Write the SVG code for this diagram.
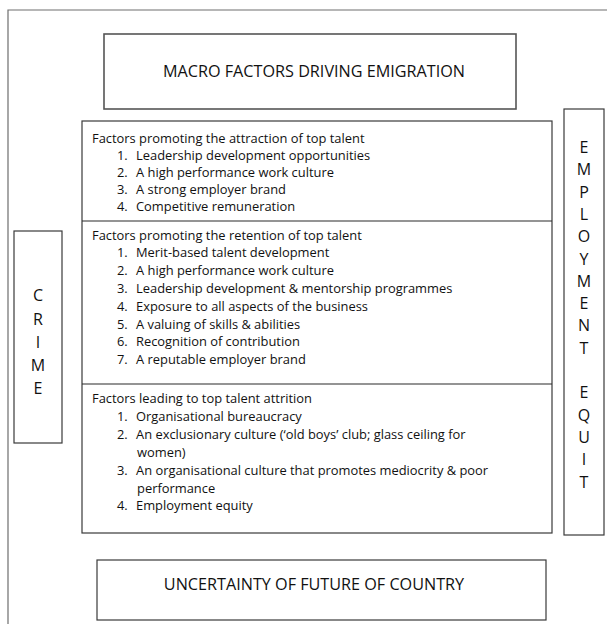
<svg xmlns="http://www.w3.org/2000/svg" width="607" height="624" viewBox="0 0 607 624">
<style>
  .frame { fill: none; stroke: #6e6e6e; stroke-width: 1.2; }
  .box { fill: #ffffff; stroke: #3a3a3a; stroke-width: 1.2; }
  .line { stroke: #2a2a2a; stroke-width: 1.2; }
  .big { font-family: "Open Sans", "Noto Sans", "Liberation Sans", sans-serif; font-size: 16.2px; fill: #111; text-anchor: middle; }
  .body { font-family: "Open Sans", "Noto Sans", "Liberation Sans", sans-serif; font-size: 12.9px; fill: #111; }
  .letter { font-family: "Open Sans", "Noto Sans", "Liberation Sans", sans-serif; font-size: 16px; fill: #111; text-anchor: middle; }
</style>
<rect width="607" height="624" fill="#ffffff"/>
<g id="frame">
  <path class="frame" d="M607 10 H8 V624"/>
</g>
<g id="connectors"></g>
<g id="macro-factors">
  <rect class="box" x="104" y="34" width="412" height="75" style="stroke:#555;stroke-width:1.6"/>
  <text class="big" x="314" y="77">MACRO FACTORS DRIVING EMIGRATION</text>
</g>
<g id="talent-factors">
  <rect class="box" x="82" y="121" width="470" height="412"/>
  <line class="line" x1="82" y1="221" x2="552" y2="221"/>
  <line class="line" x1="82" y1="384" x2="552" y2="384"/>
  <g class="body">
    <text x="92" y="142.5">Factors promoting the attraction of top talent</text>
    <text x="117" y="159.5">1.</text><text x="136" y="159.5">Leadership development opportunities</text>
    <text x="117" y="176.8">2.</text><text x="136" y="176.8">A high performance work culture</text>
    <text x="117" y="194">3.</text><text x="136" y="194">A strong employer brand</text>
    <text x="117" y="211.3">4.</text><text x="136" y="211.3">Competitive remuneration</text>

    <text x="92" y="239.5">Factors promoting the retention of top talent</text>
    <text x="117" y="257">1.</text><text x="136" y="257">Merit-based talent development</text>
    <text x="117" y="275">2.</text><text x="136" y="275">A high performance work culture</text>
    <text x="117" y="292.8">3.</text><text x="136" y="292.8">Leadership development &amp; mentorship programmes</text>
    <text x="117" y="310.8">4.</text><text x="136" y="310.8">Exposure to all aspects of the business</text>
    <text x="117" y="328.5">5.</text><text x="136" y="328.5">A valuing of skills &amp; abilities</text>
    <text x="117" y="346.3">6.</text><text x="136" y="346.3">Recognition of contribution</text>
    <text x="117" y="364.3">7.</text><text x="136" y="364.3">A reputable employer brand</text>

    <text x="92" y="402.5">Factors leading to top talent attrition</text>
    <text x="117" y="421">1.</text><text x="136" y="421">Organisational bureaucracy</text>
    <text x="117" y="439">2.</text><text x="136" y="439">An exclusionary culture (‘old boys’ club; glass ceiling for</text>
    <text x="137" y="457">women)</text>
    <text x="117" y="475">3.</text><text x="136" y="475">An organisational culture that promotes mediocrity &amp; poor</text>
    <text x="137" y="492.5">performance</text>
    <text x="117" y="510">4.</text><text x="136" y="510">Employment equity</text>
  </g>
</g>
<g id="crime">
  <rect class="box" x="14" y="231" width="48" height="212"/>
  <text class="letter" x="38" y="301">C</text>
  <text class="letter" x="38" y="324.5">R</text>
  <text class="letter" x="38" y="347.5">I</text>
  <text class="letter" x="38" y="371">M</text>
  <text class="letter" x="38" y="394">E</text>
</g>
<g id="employment-equity">
  <rect class="box" x="564" y="109" width="40" height="426"/>
  <text class="letter" x="584" y="153">E</text>
  <text class="letter" x="584" y="175.3">M</text>
  <text class="letter" x="584" y="197.6">P</text>
  <text class="letter" x="584" y="219.9">L</text>
  <text class="letter" x="584" y="242.2">O</text>
  <text class="letter" x="584" y="264.5">Y</text>
  <text class="letter" x="584" y="286.8">M</text>
  <text class="letter" x="584" y="309.1">E</text>
  <text class="letter" x="584" y="331.4">N</text>
  <text class="letter" x="584" y="353.7">T</text>
  <text class="letter" x="584" y="398.3">E</text>
  <text class="letter" x="584" y="420.6">Q</text>
  <text class="letter" x="584" y="442.9">U</text>
  <text class="letter" x="584" y="465.2">I</text>
  <text class="letter" x="584" y="487.5">T</text>
</g>
<g id="uncertainty">
  <rect class="box" x="97" y="560" width="449" height="60"/>
  <text class="big" x="314" y="589.5">UNCERTAINTY OF FUTURE OF COUNTRY</text>
</g>
</svg>
